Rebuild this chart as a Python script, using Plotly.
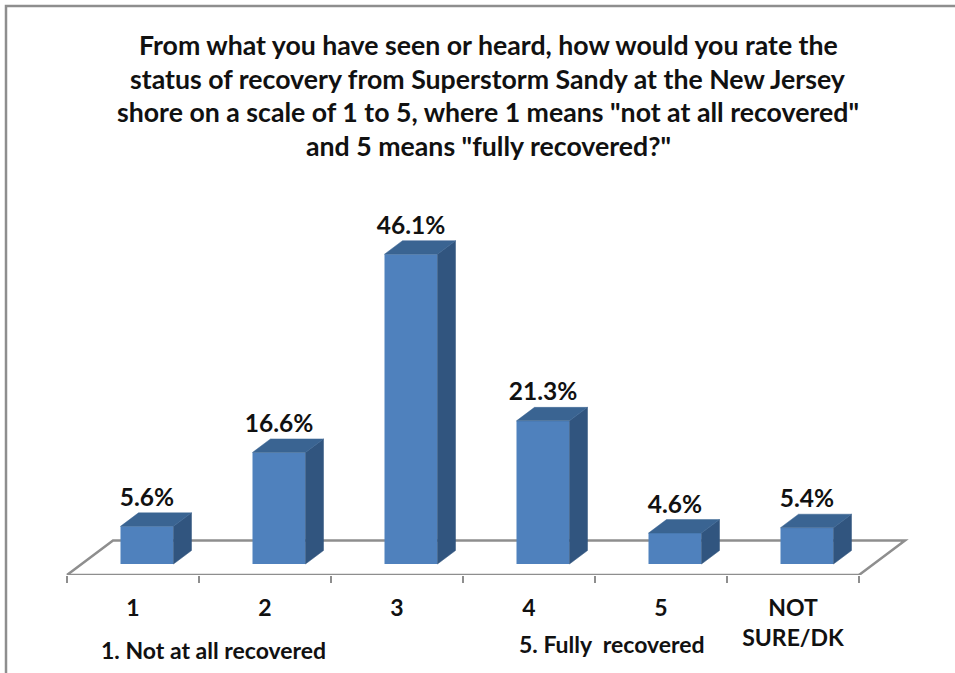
import plotly.graph_objects as go

categories = ["1", "2", "3", "4", "5", "NOT<br>SURE/DK"]
values = [5.6, 16.6, 46.1, 21.3, 4.6, 5.4]
labels = ["5.6%", "16.6%", "46.1%", "21.3%", "4.6%", "5.4%"]
title_lines = [
    "From what you have seen or heard, how would you rate the",
    "status of recovery from Superstorm Sandy at the New Jersey",
    'shore on a scale of 1 to 5, where 1 means "not at all recovered"',
    'and 5 means "fully recovered?"',
]

W, H = 955, 673
PX_X = 132.0       # pixels per category
PX_Y = 6.72        # pixels per percentage point
X0_PX = 133.0      # pixel of first category on the front floor edge
BASE_PX = 564.0    # pixel of value zero
AXIS_PX = 575.0    # pixel of front floor edge
FONT = "Lato"

x_range = [-X0_PX / PX_X, (W - X0_PX) / PX_X]
y_min = -(AXIS_PX - BASE_PX) / PX_Y
y_range = [y_min, BASE_PX / PX_Y]

bar_shift = 14.0 / PX_X
bar_w = 53.0 / PX_X
dx = 18.0 / PX_X
dy = 13.5 / PX_Y
floor_dx = 46.0 / PX_X
floor_dy = 34.5 / PX_Y
label_gap = 13.0 / PX_Y

FRONT = "#4F81BD"
SIDE = "#31557F"
TOP = "#3A6492"
LINE = "#8E8E8E"
TEXT = "#111111"

idx = list(range(len(categories)))
left = -0.5
right = len(categories) - 0.5

fig = go.Figure()

# front floor edge, on top of the plot edge
fig.add_trace(go.Scatter(
    x=[left, right], y=[y_min, y_min],
    mode="lines", line=dict(color=LINE, width=2.5), cliponaxis=False,
    hoverinfo="skip", showlegend=False))

# side and top faces
for i, v in zip(idx, values):
    c = i + bar_shift
    xl, xr = c - bar_w / 2, c + bar_w / 2
    fig.add_trace(go.Scatter(
        x=[xr, xr + dx, xr + dx, xr, xr], y=[0, dy, v + dy, v, 0],
        mode="lines", fill="toself", fillcolor=SIDE, line=dict(color=SIDE, width=0.5),
        hoverinfo="skip", showlegend=False))
    fig.add_trace(go.Scatter(
        x=[xl, xl + dx, xr + dx, xr, xl], y=[v, v + dy, v + dy, v, v],
        mode="lines", fill="toself", fillcolor=TOP, line=dict(color=TOP, width=0.5),
        hoverinfo="skip", showlegend=False))

# front faces
fig.add_trace(go.Bar(
    x=[i + bar_shift for i in idx], y=values, width=bar_w,
    marker=dict(color=FRONT, line=dict(width=0)), showlegend=False))

# value labels
fig.add_trace(go.Scatter(
    x=[i + bar_shift for i in idx],
    y=[v + dy + label_gap for v in values],
    mode="text", text=labels, textposition="middle center",
    textfont=dict(family=FONT, size=24.5, color=TEXT, weight="bold"),
    cliponaxis=False, hoverinfo="skip", showlegend=False))

annotations = []
for line, ypx in zip(title_lines, [45, 79, 112, 146]):
    annotations.append(dict(
        text=line, xref="paper", yref="paper", x=488 / W, y=(AXIS_PX - ypx) / AXIS_PX,
        xanchor="center", yanchor="middle", showarrow=False,
        font=dict(family=FONT, size=26.7, color=TEXT, weight="bold")))
for text, xpx, ypx in [("1. Not at all recovered", 213, 650), ("5. Fully  recovered", 612, 644)]:
    annotations.append(dict(
        text=text, xref="paper", yref="paper", x=xpx / W, y=(AXIS_PX - ypx) / AXIS_PX,
        xanchor="center", yanchor="middle", showarrow=False,
        font=dict(family=FONT, size=23, color=TEXT, weight="bold")))

border = f"M {6/W} {(AXIS_PX-H)/AXIS_PX} L {6/W} {(AXIS_PX-6)/AXIS_PX} L 1 {(AXIS_PX-6)/AXIS_PX}"
floor_path = (f"M {left} {y_min} L {left + floor_dx} {y_min + floor_dy} "
              f"L {right + floor_dx} {y_min + floor_dy} L {right} {y_min}")

fig.update_layout(
    width=W, height=H, margin=dict(l=0, r=0, t=0, b=H - AXIS_PX, pad=0),
    plot_bgcolor="white", paper_bgcolor="white", barmode="overlay",
    showlegend=False, annotations=annotations,
    shapes=[
        dict(type="path", path=border, xref="paper", yref="paper",
             line=dict(color=LINE, width=2.5)),
        dict(type="path", path=floor_path, xref="x", yref="y", layer="below",
             line=dict(color=LINE, width=2.5)),
    ],
    xaxis=dict(range=x_range, tickmode="array", tickvals=idx, ticktext=categories,
               showgrid=False, zeroline=False, showline=False, ticks="outside",
               ticklen=12.5, tickcolor="rgba(0,0,0,0)",
               tickfont=dict(family=FONT, size=23, color=TEXT, weight="bold"),
               minor=dict(tickmode="array", tickvals=[k - 0.5 for k in range(7)],
                          ticks="outside", ticklen=7, tickcolor=LINE, tickwidth=2)),
    yaxis=dict(range=y_range, visible=False),
)

fig.write_html("out.html", config={"displayModeBar": False},
               post_script="document.body.style.margin='0';")
